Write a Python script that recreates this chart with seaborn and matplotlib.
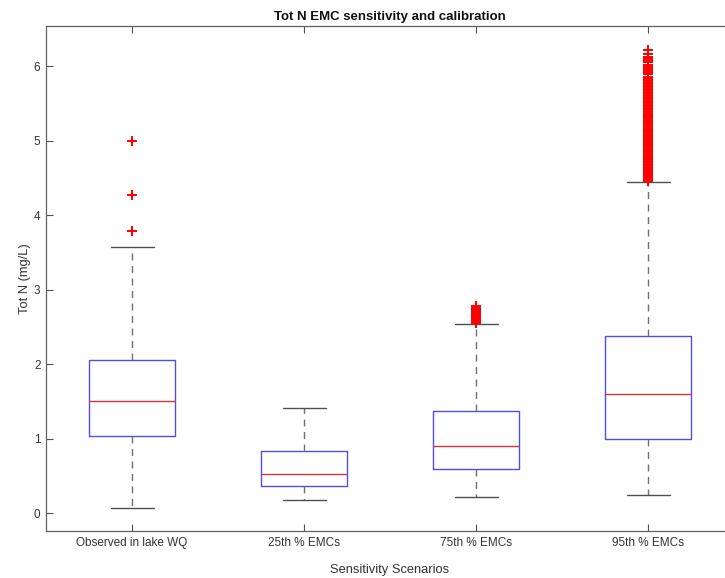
import matplotlib
matplotlib.use("Agg")
import matplotlib.pyplot as plt
import seaborn as sns
import pandas as pd

# Scenario labels and box statistics (Tot N, mg/L)
scenarios = ["Observed in lake WQ", "25th % EMCs", "75th % EMCs", "95th % EMCs"]
whisker_low = [0.07, 0.18, 0.21, 0.24]
q1 = [1.04, 0.37, 0.59, 1.00]
median = [1.50, 0.52, 0.90, 1.60]
q3 = [2.06, 0.84, 1.37, 2.38]
whisker_high = [3.57, 1.41, 2.54, 4.45]

# Outlying values for each scenario
outliers_observed = [3.79, 4.27, 5.00]
outliers_25th = []
outliers_75th = [2.55, 2.56, 2.57, 2.58, 2.59, 2.60, 2.61, 2.62, 2.63, 2.64,
                 2.65, 2.66, 2.67, 2.68, 2.69, 2.70, 2.71, 2.72, 2.73, 2.74,
                 2.75, 2.78]
outliers_95th = [4.46, 4.47, 4.48, 4.49, 4.50, 4.51, 4.52, 4.53, 4.54, 4.55,
                 4.56, 4.57, 4.58, 4.60, 4.61, 4.62, 4.64, 4.65, 4.67, 4.68,
                 4.70, 4.71, 4.72, 4.74, 4.75, 4.77, 4.78, 4.80, 4.81, 4.83,
                 4.85, 4.86, 4.88, 4.90, 4.92, 4.94, 4.96, 4.97, 4.99, 5.00,
                 5.02, 5.03, 5.05, 5.06, 5.08, 5.10, 5.12, 5.13, 5.15, 5.16,
                 5.18, 5.20, 5.22, 5.24, 5.26, 5.27, 5.29, 5.30, 5.32, 5.33,
                 5.35, 5.36, 5.38, 5.40, 5.42, 5.43, 5.45, 5.46, 5.48, 5.50,
                 5.52, 5.55, 5.57, 5.58, 5.60, 5.62, 5.64, 5.66, 5.68, 5.70,
                 5.72, 5.74, 5.76, 5.78, 5.80, 5.82, 5.84, 5.86, 5.89, 5.91,
                 5.94, 5.96, 5.99, 6.02, 6.05, 6.08, 6.11, 6.13, 6.17, 6.22]
outliers = [outliers_observed, outliers_25th, outliers_75th, outliers_95th]

sns.set_theme(style="white")
plt.rcParams["font.family"] = ["Liberation Sans", "DejaVu Sans"]

fig = plt.figure(figsize=(7.25, 5.78), dpi=100)
ax = fig.add_axes([46 / 725, 47 / 578, 688 / 725, 505 / 578])

positions = list(range(1, len(scenarios) + 1))
stats = [
    dict(label=s, whislo=lo, q1=a, med=m, q3=b, whishi=hi, fliers=[])
    for s, lo, a, m, b, hi in zip(scenarios, whisker_low, q1, median, q3, whisker_high)
]
ax.bxp(
    stats, positions=positions, widths=0.5, showfliers=False, patch_artist=False,
    boxprops=dict(color="#5050e0", linewidth=1.0),
    medianprops=dict(color="#e03030", linewidth=1.0),
    whiskerprops=dict(color="#707070", linewidth=1.0, linestyle=(0, (5, 4))),
    capprops=dict(color="#505050", linewidth=1.0),
    capwidths=0.25,
)

flier_df = pd.DataFrame(
    [(p, v) for p, vals in zip(positions, outliers) for v in vals],
    columns=["position", "value"],
)
sns.scatterplot(data=flier_df, x="position", y="value", marker="+", color="#ff0000",
                s=60, linewidth=1.4, ax=ax, zorder=3)

ax.set_xlim(0.5, 4.5)
ax.set_ylim(-0.24, 6.54)
ax.set_xticks(positions)
ax.set_xticklabels(scenarios)
ax.set_yticks(range(0, 7))
ax.tick_params(axis="both", direction="in", length=5, width=0.8, color="#505050",
               labelsize=8.5, labelcolor="#333333", top=True, right=True, left=True,
               bottom=True, pad=4)
for sp in ax.spines.values():
    sp.set_color("#606060")
    sp.set_linewidth(0.9)

ax.set_xlabel("Sensitivity Scenarios", fontsize=9.3, color="#333333", labelpad=11)
ax.set_ylabel("Tot N (mg/L)", fontsize=9.3, color="#333333", labelpad=2)
ax.set_title("Tot N EMC sensitivity and calibration", fontsize=9.5, fontweight="bold",
             color="#111111", pad=4)

fig.savefig("out.png", dpi=100)
